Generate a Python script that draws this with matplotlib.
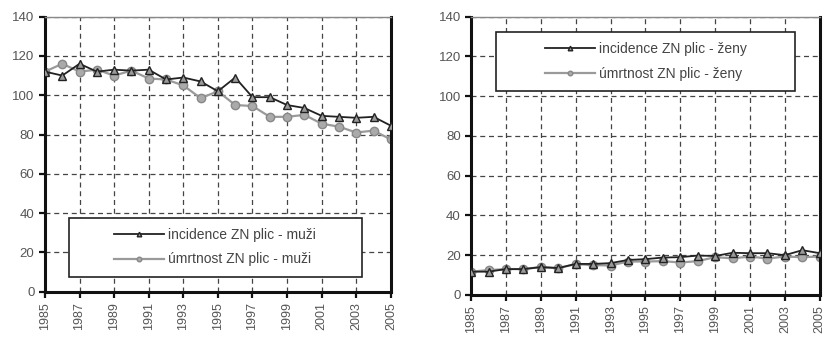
import matplotlib
matplotlib.use("Agg")

import matplotlib.pyplot as plt
from matplotlib.patches import Rectangle

plt.rcParams["font.family"] = ["Liberation Sans Narrow", "Liberation Sans", "DejaVu Sans"]

years = list(range(1985, 2006))

# men (muži)
inc_muzi = [112, 110, 116, 112, 113, 112.5, 113, 108, 109, 107, 102, 109, 99, 99,
            95, 93.5, 89.5, 89, 88.5, 89, 84.5]
umr_muzi = [112, 116, 112, 113, 110, 112.5, 108.5, 108, 105, 98.5, 102, 95, 94.5, 89,
            89, 90, 85.5, 84, 81, 82, 77.5]

# women (ženy)
inc_zeny = [11.7, 11.7, 13, 13, 14, 13.5, 15.6, 15.6, 16, 17.6, 18, 18.8, 19, 19.8,
            19.6, 21.2, 21, 21, 20, 22.5, 21]
umr_zeny = [11.7, 12.5, 13, 13, 14, 13.5, 15.5, 15, 14.8, 16.8, 16.8, 17, 16.3, 17,
            19, 18.4, 19.3, 18.3, 19.3, 19, 19.3]

labels_muzi = ["incidence ZN plic - muži", "úmrtnost ZN plic - muži"]
labels_zeny = ["incidence ZN plic - ženy", "úmrtnost ZN plic - ženy"]

fig = plt.figure(figsize=(8.28, 3.39), dpi=100)
ax1 = fig.add_axes([0.0543, 0.1395, 0.4177, 0.8115])
ax2 = fig.add_axes([0.569, 0.130, 0.421, 0.821])


def style_axes(ax):
    ax.set_xlim(1985, 2005)
    ax.set_ylim(0, 140)
    ax.set_xticks(range(1985, 2006, 2))
    ax.set_yticks(range(0, 141, 20))
    ax.set_xticklabels([str(y) for y in range(1985, 2006, 2)], rotation=90)
    ax.grid(True, color="#444444", linestyle=(0, (4, 3)), linewidth=0.9)
    ax.set_axisbelow(True)
    for side in ["left", "bottom", "right"]:
        ax.spines[side].set_color("#111111")
        ax.spines[side].set_linewidth(2.2)
    ax.spines["top"].set_color("#888888")
    ax.spines["top"].set_linewidth(1.0)
    ax.tick_params(axis="both", colors="#111111", labelcolor="#555555",
                   labelsize=9.5, length=4, width=1.6, direction="out")
    ax.tick_params(axis="x", labelsize=9)


def draw(ax, inc, umr, labels):
    ax.plot(years, inc, color="#222222", linewidth=1.3, marker="^",
            markersize=6, markerfacecolor="#9a9a9a", markeredgecolor="#222222",
            markeredgewidth=1.0, label=labels[0], zorder=3)
    ax.plot(years, umr, color="#9a9a9a", linewidth=1.6, marker="o",
            markersize=6, markerfacecolor="#aaaaaa", markeredgecolor="#888888",
            markeredgewidth=1.0, label=labels[1], zorder=2)


draw(ax1, inc_muzi, umr_muzi, labels_muzi)
draw(ax2, inc_zeny, umr_zeny, labels_zeny)
style_axes(ax1)
style_axes(ax2)

# legend boxes (axes fraction): x, y, width, height
for ax, box in [(ax1, (0.069, 0.054, 0.847, 0.215)), (ax2, (0.072, 0.733, 0.858, 0.211))]:
    ax.add_patch(Rectangle((box[0], box[1]), box[2], box[3], transform=ax.transAxes,
                           facecolor="white", edgecolor="#222222", linewidth=1.2,
                           zorder=4))
    leg = ax.legend(loc="center", bbox_to_anchor=(box[0] + box[2] / 2, box[1] + box[3] / 2),
                    fontsize=10, frameon=False, handlelength=3.6, markerscale=0.55,
                    handletextpad=0.3, borderpad=0.2, labelspacing=0.75)
    leg.set_zorder(5)
    for t in leg.get_texts():
        t.set_color("#444444")

plt.savefig("out.png", dpi=100)
plt.close()
